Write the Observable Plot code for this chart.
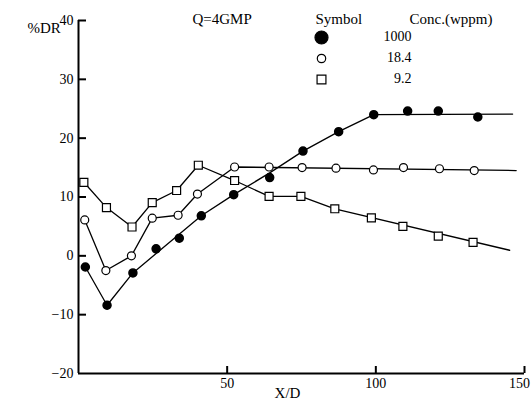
<!DOCTYPE html>
<html>
<head>
<meta charset="utf-8">
<script src="https://cdn.jsdelivr.net/npm/d3@7"></script>
<script src="https://cdn.jsdelivr.net/npm/@observablehq/plot@0.6"></script>
<style>
  html, body { margin: 0; padding: 0; background: #fff; }
  #chart svg { display: block; }
  #chart svg text { font-family: "Liberation Serif", "Times New Roman", serif; }
</style>
</head>
<body>
<div id="chart"></div>
<script>
// ---- data ----
const xTicks = [50, 100, 150];
const yTicks = [-20, -10, 0, 10, 20, 30, 40];

const seriesNames = ["1000", "18.4", "9.2"];

// Conc. 1000 wppm (filled circles)
const x1000 = [2.3, 9.6, 18.3, 26.1, 33.9, 41.3, 52.2, 64.3, 75.5, 87.5, 99.3, 110.7, 121.0, 134.3];
const y1000 = [-1.9, -8.4, -2.9, 1.2, 3.0, 6.8, 10.4, 13.3, 17.8, 21.1, 24.0, 24.6, 24.6, 23.6];
const fit1000X = [2.3, 9.6, 18.3, 41.3, 52.2, 64.3, 75.5, 87.5, 99.3, 146];
const fit1000Y = [-1.9, -8.4, -2.9, 6.8, 10.4, 14.1, 17.8, 21.1, 24.0, 24.1];

// Conc. 18.4 wppm (open circles)
const x184 = [2.1, 9.2, 17.8, 24.8, 33.5, 40.0, 52.5, 64.1, 75.2, 86.6, 99.2, 109.3, 121.4, 133.1];
const y184 = [6.1, -2.5, 0.0, 6.4, 6.9, 10.5, 15.1, 15.1, 15.0, 14.9, 14.6, 15.0, 14.8, 14.5];
const fit184X = [2.1, 9.2, 17.8, 24.8, 33.5, 40.0, 52.5, 147.2];
const fit184Y = [6.1, -2.5, 0.0, 6.4, 6.9, 10.5, 15.1, 14.5];

// Conc. 9.2 wppm (open squares)
const x92 = [1.8, 9.4, 18.0, 24.8, 33.0, 40.3, 52.5, 64.1, 74.8, 86.2, 98.5, 109.1, 121.0, 132.7];
const y92 = [12.5, 8.2, 4.9, 9.05, 11.1, 15.4, 12.8, 10.1, 10.1, 8.0, 6.45, 5.0, 3.35, 2.3];
const fit92X = [1.8, 9.4, 18.0, 24.8, 33.0, 40.3, 52.5, 64.1, 74.8, 86.2, 145];
const fit92Y = [12.5, 8.2, 4.9, 9.05, 11.1, 15.4, 12.8, 10.1, 10.1, 8.0, 0.95];

// ---- build tables ----
const zip = (xs, ys) => xs.map((x, i) => ({x, y: ys[i]}));
const pts1000 = zip(x1000, y1000), pts184 = zip(x184, y184), pts92 = zip(x92, y92);
const fit1000 = zip(fit1000X, fit1000Y), fit184 = zip(fit184X, fit184Y), fit92 = zip(fit92X, fit92Y);

const FONT = "Liberation Serif, Times New Roman, serif";
const lineOpts = {x: "x", y: "y", stroke: "black", strokeWidth: 1.3};
const txt = {fontFamily: FONT, fill: "black", lineAnchor: "middle"};

// legend rows
const legendRows = [
  {label: seriesNames[0], symbol: "circle", r: 6.5, fill: "black", dy: 17},
  {label: seriesNames[1], symbol: "circle", r: 4.2, fill: "white", dy: 38},
  {label: seriesNames[2], symbol: "square", r: 5, fill: "white", dy: 59}
];

const legendMarks = legendRows.flatMap(row => [
  Plot.dot([row], {frameAnchor: "top-left", dx: 243, dy: row.dy, r: row.r, symbol: row.symbol,
    fill: row.fill, stroke: "black", strokeWidth: 1.2}),
  Plot.text([row], {...txt, frameAnchor: "top-left", dx: 333, dy: row.dy - 1, text: "label", textAnchor: "end",
    fontSize: 14})
]);

const chart = Plot.plot({
  width: 531,
  height: 401,
  marginLeft: 78,
  marginRight: 7,
  marginTop: 20,
  marginBottom: 28,
  style: {fontFamily: FONT, fontSize: "14px", color: "black", background: "white"},
  x: {domain: [0, 150]},
  y: {domain: [-20, 40]},
  marks: [
    // axis lines
    Plot.ruleY([-20], {stroke: "black", strokeWidth: 2}),
    Plot.ruleX([0], {stroke: "black", strokeWidth: 2}),
    // inward tick marks
    Plot.ruleX(xTicks, {x: d => d, y1: -20, y2: -20, insetTop: -7, stroke: "black", strokeWidth: 2}),
    Plot.ruleY(yTicks.filter(d => d > -20), {y: d => d, x1: 0, x2: 0, insetRight: -8, stroke: "black", strokeWidth: 2}),
    // tick labels
    Plot.axisX({ticks: xTicks.slice(0, -1), tickSize: 0, tickPadding: 5, fontSize: 14, fontFamily: FONT, label: null}),
    Plot.axisX({ticks: xTicks.slice(-1), tickSize: 0, tickPadding: 5, dx: -5, fontSize: 14, fontFamily: FONT, label: null}),
    Plot.axisY({ticks: yTicks, tickSize: 0, tickPadding: 5, fontSize: 14, fontFamily: FONT, label: null}),
    // fitted lines
    Plot.line(fit1000, lineOpts),
    Plot.line(fit184, lineOpts),
    Plot.line(fit92, lineOpts),
    // markers
    Plot.dot(pts1000, {x: "x", y: "y", r: 4, fill: "black", stroke: "black"}),
    Plot.dot(pts184, {x: "x", y: "y", r: 4, fill: "white", stroke: "black", strokeWidth: 1.2}),
    Plot.dot(pts92, {x: "x", y: "y", r: 4.5, symbol: "square", fill: "white", stroke: "black", strokeWidth: 1.2}),
    // annotations
    Plot.text(["%DR"], {...txt, frameAnchor: "top-left", dx: -51, dy: 8, text: d => d, fontSize: 15}),
    Plot.text(["Q=4GMP"], {...txt, frameAnchor: "top-left", dx: 114, dy: -1, text: d => d, fontSize: 15}),
    Plot.text(["Symbol"], {...txt, frameAnchor: "top-left", dx: 237, dy: -1, text: d => d, fontSize: 15}),
    Plot.text(["Conc.(wppm)"], {...txt, frameAnchor: "top-left", dx: 331, dy: -1, text: d => d, fontSize: 15}),
    ...legendMarks,
    Plot.text(["X/D"], {...txt, frameAnchor: "bottom", dx: -14, dy: 20, text: d => d, fontSize: 15})
  ]
});

document.getElementById("chart").appendChild(chart);
</script>
</body>
</html>
